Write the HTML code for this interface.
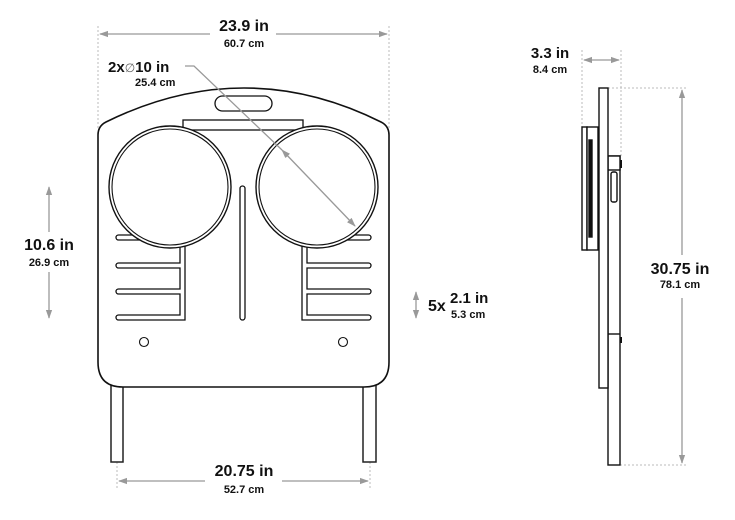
<!DOCTYPE html>
<html><head><meta charset="utf-8"><style>
html,body{margin:0;padding:0;background:#fff;}
svg{display:block;}
text{font-family:"Liberation Sans",sans-serif;font-weight:bold;fill:#111;}
</style></head><body>
<svg width="735" height="520" viewBox="0 0 735 520" xmlns="http://www.w3.org/2000/svg">
<defs>
<marker id="a" viewBox="0 0 10 10" refX="9" refY="5" markerWidth="7" markerHeight="7" orient="auto-start-reverse"><path d="M0,1.5 L10,5 L0,8.5 z" fill="#999"/></marker>
</defs>
<g stroke="#bbb" stroke-width="1" stroke-dasharray="2,2" fill="none">
<line x1="98" y1="26" x2="98" y2="130"/>
<line x1="389" y1="26" x2="389" y2="130"/>
<line x1="117" y1="390" x2="117" y2="488"/>
<line x1="370" y1="390" x2="370" y2="488"/>
<line x1="582" y1="50" x2="582" y2="128"/>
<line x1="621" y1="50" x2="621" y2="156"/>
<line x1="608" y1="88" x2="688" y2="88"/>
<line x1="620" y1="465" x2="688" y2="465"/>
</g>
<g stroke="#999" stroke-width="1.3" fill="none">
<line x1="100" y1="34" x2="210" y2="34" marker-start="url(#a)"/>
<line x1="276" y1="34" x2="387" y2="34" marker-end="url(#a)"/>
<line x1="49" y1="187" x2="49" y2="232" marker-start="url(#a)"/>
<line x1="49" y1="272" x2="49" y2="318" marker-end="url(#a)"/>
<line x1="119" y1="481" x2="205" y2="481" marker-start="url(#a)"/>
<line x1="282" y1="481" x2="368" y2="481" marker-end="url(#a)"/>
<line x1="416" y1="292" x2="416" y2="318" marker-start="url(#a)" marker-end="url(#a)"/>
<line x1="584" y1="60" x2="619" y2="60" marker-start="url(#a)" marker-end="url(#a)"/>
<line x1="682" y1="90" x2="682" y2="255" marker-start="url(#a)"/>
<line x1="682" y1="298" x2="682" y2="463" marker-end="url(#a)"/>
</g>
<!-- legs -->
<g stroke="#222" stroke-width="1.5" fill="#fff">
<rect x="111" y="380" width="12" height="82"/>
<rect x="363" y="380" width="13" height="82"/>
</g>
<!-- board -->
<path d="M98,135 Q98,126 106,122 Q175,88 244,88 Q313,88 381,122 Q389,126 389,135 L389,362 Q389,387 364,387 L123,387 Q98,387 98,362 Z" fill="#fff" stroke="#111" stroke-width="1.6"/>
<g stroke="#111" stroke-width="1.3" fill="#fff">
<rect x="215" y="96" width="57" height="15" rx="7.5"/>
<rect x="183" y="120" width="120" height="10"/>
<!-- left slats + bar -->
<path d="M180,240 L118.5,240 A2.5,2.5 0 0 1 118.5,235 L180,235 Z" />
<path d="M185,232 L185,320 L118.5,320 A2.5,2.5 0 0 1 118.5,315 L180,315 L180,294 L118.5,294 A2.5,2.5 0 0 1 118.5,289 L180,289 L180,268 L118.5,268 A2.5,2.5 0 0 1 118.5,263 L180,263 L180,232 Z"/>
<!-- right slats + bar -->
<path d="M307,240 L368.5,240 A2.5,2.5 0 0 0 368.5,235 L307,235 Z"/>
<path d="M302,232 L302,320 L368.5,320 A2.5,2.5 0 0 0 368.5,315 L307,315 L307,294 L368.5,294 A2.5,2.5 0 0 0 368.5,289 L307,289 L307,268 L368.5,268 A2.5,2.5 0 0 0 368.5,263 L307,263 L307,232 Z"/>
</g>
<rect x="240" y="186" width="5" height="134" rx="2.5" fill="#fff" stroke="#111" stroke-width="1.3"/>
<g stroke="#111" stroke-width="1.4" fill="#fff">
<circle cx="170" cy="187" r="61"/>
<circle cx="317" cy="187" r="61"/>
</g>
<g stroke="#111" stroke-width="1.1" fill="#fff">
<circle cx="170" cy="187" r="58"/>
<circle cx="317" cy="187" r="58"/>
<circle cx="144" cy="342" r="4.5"/>
<circle cx="343" cy="342" r="4.5"/>
</g>
<g stroke="#999" stroke-width="1.3" fill="none">
<polyline points="185,66 194,66 282,150"/>
<line x1="282" y1="150" x2="355" y2="226" marker-start="url(#a)" marker-end="url(#a)"/>
</g>
<!-- side view -->
<g stroke="#111" stroke-width="1.4" fill="#fff">
<rect x="608" y="156" width="12" height="309"/>
<rect x="608" y="156" width="12" height="14"/>
<line x1="608" y1="334" x2="620" y2="334"/>
<rect x="599" y="88" width="9" height="300"/>
<rect x="582" y="127" width="5" height="123"/>
<rect x="587" y="127" width="11" height="123"/>
<rect x="589" y="140" width="3" height="97" fill="#111"/>
<rect x="611" y="172" width="6" height="30" rx="2"/>
</g>
<rect x="620" y="160" width="2" height="8" fill="#111"/>
<rect x="620" y="337" width="2" height="6" fill="#111"/>
<!-- labels -->
<text x="244" y="31" font-size="16" text-anchor="middle">23.9 in</text>
<text x="244" y="47" font-size="11" text-anchor="middle">60.7 cm</text>
<text x="108" y="72" font-size="15">2x<tspan font-weight="normal" fill="#666" font-size="12">∅</tspan>10 in</text>
<text x="135" y="86" font-size="11">25.4 cm</text>
<text x="49" y="250" font-size="16" text-anchor="middle">10.6 in</text>
<text x="49" y="266" font-size="11" text-anchor="middle">26.9 cm</text>
<text x="244" y="476" font-size="16" text-anchor="middle">20.75 in</text>
<text x="244" y="493" font-size="11" text-anchor="middle">52.7 cm</text>
<text x="428" y="311" font-size="16">5x</text>
<text x="450" y="303" font-size="15">2.1 in</text>
<text x="451" y="318" font-size="11">5.3 cm</text>
<text x="550" y="58" font-size="15" text-anchor="middle">3.3 in</text>
<text x="550" y="73" font-size="11" text-anchor="middle">8.4 cm</text>
<text x="680" y="274" font-size="16" text-anchor="middle">30.75 in</text>
<text x="680" y="288" font-size="11" text-anchor="middle">78.1 cm</text>
</svg>
</body></html>
